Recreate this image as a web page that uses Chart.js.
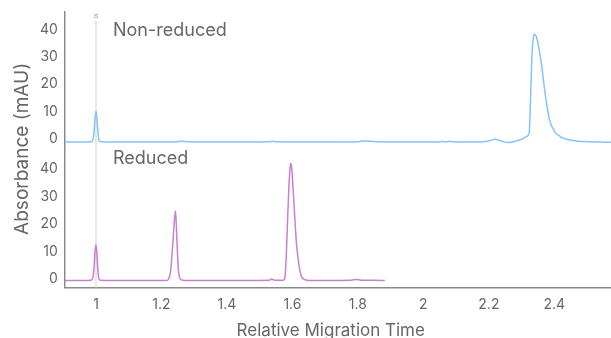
<!DOCTYPE html>
<html>
<head>
<meta charset="utf-8">
<script src="https://cdn.jsdelivr.net/npm/chart.js@4"></script>
<style>
  body { margin: 0; background: #fff; }
  #wrap { width: 611px; height: 338px; position: relative; }
</style>
</head>
<body>
<div id="wrap"><canvas id="ceChart"></canvas></div>
<script>
// Electropherogram traces
const nonReducedTime = [0.905, 0.96, 0.985, 0.990, 0.994, 0.997, 1.000, 1.003, 1.006, 1.009, 1.014, 1.05, 1.10, 1.20, 1.25,
  1.262, 1.275, 1.35, 1.45, 1.53, 1.54, 1.55, 1.65, 1.75, 1.80, 1.82, 1.84, 1.86, 1.95, 2.04, 2.06, 2.07, 2.08, 2.09, 2.15,
  2.19, 2.205, 2.218, 2.232, 2.245, 2.259, 2.272, 2.284, 2.300, 2.315, 2.323, 2.328, 2.332, 2.336, 2.340, 2.345, 2.351,
  2.361, 2.371, 2.384, 2.401, 2.427, 2.45, 2.468, 2.508, 2.54, 2.573];
const nonReducedAbs = [-1.0, -1.0, -0.9, -0.4, 2.5, 7.5, 10.3, 7.5, 2.5, -0.3, -0.9, -1.0, -1.0, -1.0, -0.9,
  -0.6, -0.9, -1.0, -1.0, -0.9, -0.7, -0.9, -1.0, -1.0, -0.9, -0.6, -0.7, -0.9, -1.0, -1.0, -0.8, -1.0, -0.7, -0.9, -1.0,
  -0.8, -0.4, 0.0, -0.4, -0.9, -1.2, -1.0, -0.6, 0.0, 1.0, 2.2, 17.3, 31.9, 37.0, 38.2, 37.3, 34.3,
  27.0, 17.3, 7.6, 2.8, 0.4, -0.3, -0.6, -0.9, -1.0, -1.1];

const reducedTime = [0.905, 0.96, 0.985, 0.990, 0.994, 0.997, 1.000, 1.003, 1.006, 1.009, 1.014, 1.05, 1.15, 1.215,
  1.222, 1.228, 1.234, 1.240, 1.243, 1.246, 1.249, 1.252, 1.256, 1.262, 1.28, 1.35, 1.45, 1.53, 1.536, 1.545,
  1.572, 1.577, 1.581, 1.585, 1.589, 1.593, 1.595, 1.598, 1.602, 1.608, 1.613, 1.618, 1.623, 1.628, 1.636, 1.645,
  1.66, 1.70, 1.78, 1.796, 1.81, 1.85, 1.882];
const reducedAbs = [-0.5, -0.5, -0.4, 0.3, 4.0, 10.0, 12.5, 9.0, 3.0, 0.0, -0.4, -0.5, -0.5, -0.5,
  0.1, 3.0, 11.7, 22.0, 24.8, 18.0, 9.0, 3.0, 0.4, -0.3, -0.5, -0.5, -0.5, -0.4, 0.0, -0.4,
  -0.4, 0.4, 8.0, 20.8, 33.0, 40.7, 42.2, 40.2, 33.0, 20.8, 12.0, 6.9, 3.0, 0.8, -0.1, -0.4,
  -0.5, -0.5, -0.4, -0.1, -0.4, -0.4, -0.5];

const xTicks = [1, 1.2, 1.4, 1.6, 1.8, 2, 2.2, 2.4];
const yTicks = [0, 10, 20, 30, 40];
const isMarker = 1;

const FONT = 'Inter, "Noto Sans", sans-serif';
const TEXT = '#666666';
const AXIS = '#8a8a8a';

function toPoints(xs, ys) {
  return xs.map((x, i) => ({ x: x, y: ys[i] }));
}

function yAxis(weight, min, max) {
  return {
    type: 'linear',
    position: 'left',
    stack: 'panels',
    stackWeight: weight,
    min: min,
    max: max,
    grid: { display: false, drawTicks: false },
    border: { color: AXIS, width: 1.5 },
    ticks: { color: TEXT, font: { family: FONT, size: 14 }, padding: 7 },
    afterBuildTicks: axis => { axis.ticks = yTicks.map(v => ({ value: v })); },
    // let layout.padding alone decide where the plot starts
    afterFit: axis => { axis.paddingTop = 0; axis.paddingBottom = 0; }
  };
}

// IS marker line and the text drawn on top of the plot
const overlayPlugin = {
  id: 'overlay',
  beforeDatasetsDraw(chart) {
    const { ctx, chartArea, scales } = chart;
    const px = scales.x.getPixelForValue(isMarker);
    ctx.save();
    ctx.strokeStyle = '#d4d4d4';
    ctx.lineWidth = 1;
    ctx.beginPath();
    ctx.moveTo(px, scales.yTop.getPixelForValue(43));
    ctx.lineTo(px, chartArea.bottom);
    ctx.stroke();
    ctx.fillStyle = '#888';
    ctx.font = '5px ' + FONT;
    ctx.textAlign = 'center';
    ctx.textBaseline = 'middle';
    ctx.fillText('IS', px, scales.yTop.getPixelForValue(44.7));
    ctx.restore();
  },
  afterDraw(chart) {
    const { ctx, chartArea, scales } = chart;
    ctx.save();
    ctx.fillStyle = TEXT;
    ctx.font = '18px ' + FONT;
    ctx.textAlign = 'left';
    ctx.textBaseline = 'middle';
    ctx.fillText('Non-reduced', scales.x.getPixelForValue(1.052), scales.yTop.getPixelForValue(39.7));
    ctx.fillText('Reduced', scales.x.getPixelForValue(1.052), scales.yBottom.getPixelForValue(43.8));
    ctx.translate(22, (chartArea.top + chartArea.bottom) / 2 - 1);
    ctx.rotate(-Math.PI / 2);
    ctx.textAlign = 'center';
    ctx.font = '19px ' + FONT;
    ctx.fillText('Absorbance (mAU)', 0, 0);
    ctx.restore();
  }
};

new Chart(document.getElementById('ceChart'), {
  type: 'line',
  data: {
    datasets: [{
      label: 'Non-reduced',
      data: toPoints(nonReducedTime, nonReducedAbs),
      yAxisID: 'yTop',
      borderColor: '#86c2fb',
      borderWidth: 1.5,
      pointRadius: 0,
      cubicInterpolationMode: 'monotone'
    }, {
      label: 'Reduced',
      data: toPoints(reducedTime, reducedAbs),
      yAxisID: 'yBottom',
      borderColor: '#c97fcf',
      borderWidth: 1.5,
      pointRadius: 0,
      cubicInterpolationMode: 'monotone'
    }]
  },
  options: {
    responsive: true,
    maintainAspectRatio: false,
    animation: false,
    layout: { padding: { left: 33, top: 12, right: 0, bottom: -3 } },
    plugins: { legend: { display: false }, tooltip: { enabled: false } },
    scales: {
      x: {
        type: 'linear',
        min: 0.905,
        max: 2.573,
        grid: { display: false, drawTicks: false },
        border: { color: AXIS, width: 1.5 },
        ticks: { color: TEXT, font: { family: FONT, size: 14 }, padding: 9, callback: v => String(v) },
        afterBuildTicks: axis => { axis.ticks = xTicks.map(v => ({ value: v })); },
        title: {
          display: true,
          // trailing spaces nudge the centred title a little left, as in the original
          text: 'Relative Migration Time   ',
          color: TEXT,
          font: { family: FONT, size: 17 },
          padding: { top: -2, bottom: 0 }
        }
      },
      // the stack is filled from the bottom up, so the lower panel comes first
      yBottom: yAxis(136, -3.16, 46.3),
      yTop: yAxis(140, -4.6, 46.3)
    }
  },
  plugins: [overlayPlugin]
});
</script>
</body>
</html>
